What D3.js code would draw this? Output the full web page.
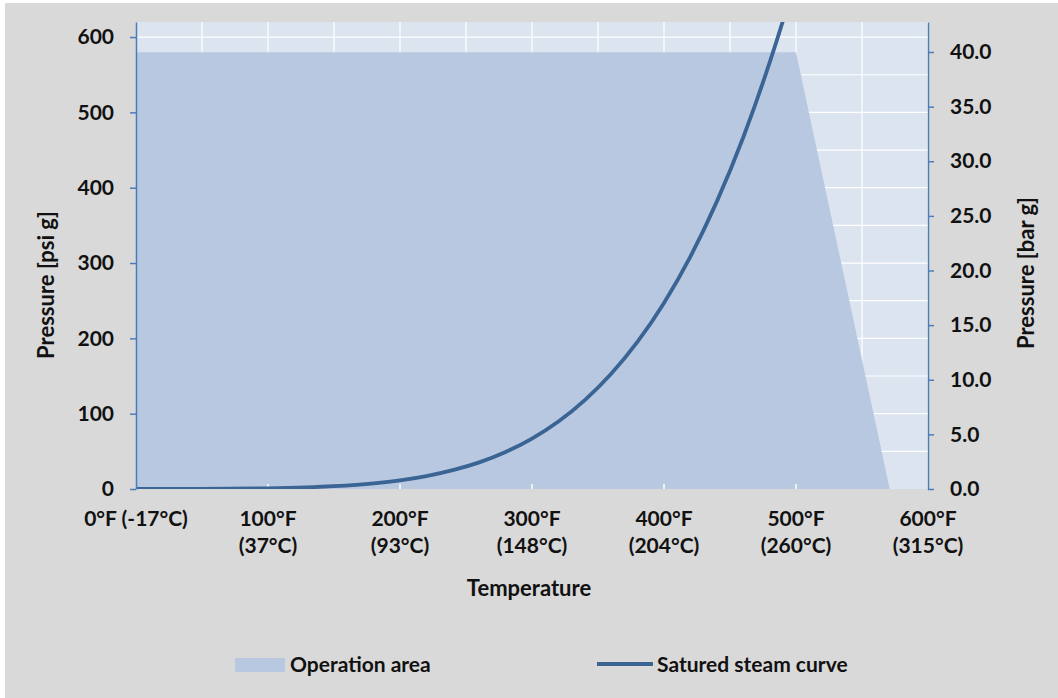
<!DOCTYPE html>
<html>
<head>
<meta charset="utf-8">
<script src="https://cdn.jsdelivr.net/npm/d3@7"></script>
<style>
  html, body { margin: 0; padding: 0; background: #ffffff; }
  svg { display: block; }
  text { font-family: Lato, "DejaVu Sans", sans-serif; font-weight: bold; fill: #111; }
</style>
</head>
<body>
<svg id="chart"></svg>
<script>
// operation area outline (temperature °F, pressure psi)
const areaTemps = [0, 500, 571];
const areaPsi = [580, 580, 0];

// saturated steam curve (°F, psi)
const steamTemps = [0, 50, 100, 150, 180, 200, 220, 240, 260, 280, 300, 320, 340, 360, 380, 400, 420, 440, 460, 480, 490, 500];
const steamPsi = [0.02, 0.18, 0.95, 3.7, 7.5, 11.5, 17.2, 25, 35.4, 49.2, 67, 89.6, 118, 153, 195.6, 247, 308.5, 381.5, 466.7, 566, 621, 680];

const xTicks = [0, 100, 200, 300, 400, 500, 600];
const xTickF = ["0°F (-17°C)", "100°F", "200°F", "300°F", "400°F", "500°F", "600°F"];
const xTickC = ["", "(37°C)", "(93°C)", "(148°C)", "(204°C)", "(260°C)", "(315°C)"];
const psiTicks = [0, 100, 200, 300, 400, 500, 600];
const barTicks = [0, 5, 10, 15, 20, 25, 30, 35, 40];

const W = 1058, H = 698;
const margin = { top: 22, right: 130, bottom: 209, left: 136 },
    width = W - margin.left - margin.right,
    height = H - margin.top - margin.bottom;

const psiMax = 620, psiPerBar = 14.5038;
const fs = "21px";

const svgRoot = d3.select("#chart")
    .attr("width", W)
    .attr("height", H);

// outer gray panel
svgRoot.append("rect")
    .attr("x", 5).attr("y", 3)
    .attr("width", W - 5).attr("height", H - 3)
    .attr("fill", "#d9d9d9");

const svg = svgRoot.append("g")
    .attr("transform", `translate(${margin.left}, ${margin.top})`);

const x = d3.scaleLinear().domain([0, 600]).range([0, width]);
const y = d3.scaleLinear().domain([0, psiMax]).range([height, 0]);
const yBar = d3.scaleLinear().domain([0, psiMax / psiPerBar]).range([height, 0]);

svg.append("defs").append("clipPath")
    .attr("id", "plotClip")
    .append("rect")
    .attr("width", width).attr("height", height);

// plot background
svg.append("rect")
    .attr("width", width).attr("height", height)
    .attr("fill", "#dce4f0");

// gridlines
svg.append("g")
    .selectAll("line")
    .data(d3.range(50, 601, 50))
    .enter()
    .append("line")
    .attr("x1", d => x(d)).attr("x2", d => x(d))
    .attr("y1", 0).attr("y2", height)
    .attr("stroke", "#ffffff")
    .attr("stroke-width", 1.2);

svg.append("g")
    .selectAll("line")
    .data(d3.range(50, psiMax, 50))
    .enter()
    .append("line")
    .attr("x1", 0).attr("x2", width)
    .attr("y1", d => y(d)).attr("y2", d => y(d))
    .attr("stroke", "#ffffff")
    .attr("stroke-width", 1.2);

// operation area
const areaData = areaTemps.map((t, i) => ({ t: t, p: areaPsi[i] }));
svg.append("path")
    .datum(areaData)
    .attr("fill", "#b9c8e1")
    .attr("d", d3.area()
        .x(d => x(d.t))
        .y0(y(0))
        .y1(d => y(d.p)));

// little white x ticks sitting on the bottom edge
svg.append("g")
    .selectAll("line")
    .data(xTicks.slice(1, 6))
    .enter()
    .append("line")
    .attr("x1", d => x(d)).attr("x2", d => x(d))
    .attr("y1", height).attr("y2", height - 5)
    .attr("stroke", "#ffffff")
    .attr("stroke-width", 1.5);

// steam curve
const steamData = steamTemps.map((t, i) => ({ t: t, p: steamPsi[i] }));
svg.append("path")
    .datum(steamData)
    .attr("clip-path", "url(#plotClip)")
    .attr("fill", "none")
    .attr("stroke", "#3a6493")
    .attr("stroke-width", 3.8)
    .attr("d", d3.line()
        .curve(d3.curveMonotoneX)
        .x(d => x(d.t))
        .y(d => y(d.p)));

// left axis
const yAxis = svg.append("g")
    .call(d3.axisLeft(y).tickValues(psiTicks).tickSize(6).tickPadding(16).tickSizeOuter(0));
yAxis.select(".domain").attr("stroke", "#4a7ebb").attr("stroke-width", 1.5);
yAxis.selectAll(".tick line").attr("stroke", "#4a7ebb").attr("stroke-width", 1.5);
yAxis.selectAll(".tick text").style("font-size", fs).attr("fill", "#111");

// right axis
const yAxisR = svg.append("g")
    .attr("transform", `translate(${width}, 0)`)
    .call(d3.axisRight(yBar).tickValues(barTicks).tickFormat(d3.format(".1f"))
        .tickSize(6).tickPadding(16).tickSizeOuter(0));
yAxisR.select(".domain").attr("stroke", "#4a7ebb").attr("stroke-width", 1.5);
yAxisR.selectAll(".tick line").attr("stroke", "#4a7ebb").attr("stroke-width", 1.5);
yAxisR.selectAll(".tick text").style("font-size", fs).attr("fill", "#111");

// x tick labels (two lines)
const xLab = svg.append("g")
    .selectAll("text")
    .data(xTicks)
    .enter()
    .append("text")
    .attr("x", d => x(d))
    .attr("y", 526 - margin.top)
    .attr("text-anchor", "middle")
    .style("font-size", fs);
xLab.append("tspan")
    .attr("x", d => x(d))
    .text((d, i) => xTickF[i]);
xLab.append("tspan")
    .attr("x", d => x(d))
    .attr("dy", 27)
    .text((d, i) => xTickC[i]);

// axis titles
svg.append("text")
    .attr("x", 529 - margin.left)
    .attr("y", 596 - margin.top)
    .attr("text-anchor", "middle")
    .style("font-size", "22px")
    .text("Temperature");

svg.append("text")
    .attr("transform", `translate(${54 - margin.left}, ${285 - margin.top}) rotate(-90)`)
    .attr("text-anchor", "middle")
    .style("font-size", "22px")
    .text("Pressure [psi g]");

svg.append("text")
    .attr("transform", `translate(${1034 - margin.left}, ${273 - margin.top}) rotate(-90)`)
    .attr("text-anchor", "middle")
    .style("font-size", "22px")
    .text("Pressure [bar g]");

// legend
const legend = svgRoot.append("g");
legend.append("rect")
    .attr("x", 235).attr("y", 658)
    .attr("width", 50).attr("height", 14)
    .attr("fill", "#b9c8e1");
legend.append("text")
    .attr("x", 290).attr("y", 672)
    .style("font-size", fs)
    .text("Operation area");
legend.append("line")
    .attr("x1", 597).attr("x2", 653)
    .attr("y1", 664).attr("y2", 664)
    .attr("stroke", "#3a6493")
    .attr("stroke-width", 3.8);
legend.append("text")
    .attr("x", 657).attr("y", 672)
    .style("font-size", fs)
    .text("Satured steam curve");
</script>
</body>
</html>
